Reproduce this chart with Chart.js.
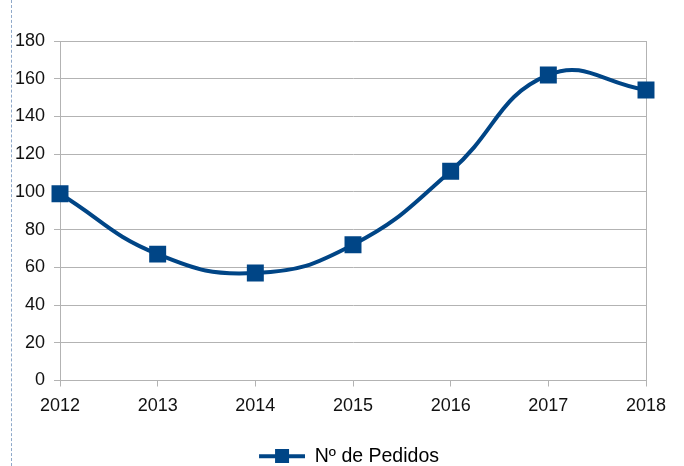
<!DOCTYPE html>
<html>
<head>
<meta charset="utf-8">
<script src="https://cdn.jsdelivr.net/npm/chart.js@4"></script>
<style>
    html, body { margin: 0; padding: 0; background: #fff; }
    #wrap { position: relative; width: 684px; height: 466px; }
    #frame { position: absolute; left: 11px; top: 0; height: 466px; border-left: 1px dashed #8fa9c9; }
</style>
</head>
<body>
<div id="wrap">
    <div id="frame"></div>
    <canvas id="chart" width="684" height="466"></canvas>
</div>
<script>
// Data
const years = ['2012', '2013', '2014', '2015', '2016', '2017', '2018'];
const pedidos = [99, 67, 57, 72, 111, 162, 154];
const seriesLabel = 'Nº de Pedidos';

const lineColor = '#004586';
const gridColor = '#b3b3b3';
const textColor = '#111';

// Legend symbol: line with square, with blank room on the left to nudge the item right
const symbolShift = 52;
function legendSymbol() {
    const c = document.createElement('canvas');
    c.width = 46 + symbolShift;
    c.height = 14;
    const g = c.getContext('2d');
    g.fillStyle = lineColor;
    g.fillRect(symbolShift, 5, 46, 4);
    g.fillRect(symbolShift + 16, 0, 14, 14);
    return c;
}

function initChart() {
    const ctx = document.getElementById('chart').getContext('2d');
    Chart.defaults.font.family = "'Liberation Sans', Arial, sans-serif";
    Chart.defaults.font.size = 18;
    Chart.defaults.color = textColor;

    new Chart(ctx, {
        type: 'line',
        data: {
            labels: years,
            datasets: [{
                label: seriesLabel,
                data: pedidos,
                borderColor: lineColor,
                backgroundColor: lineColor,
                borderWidth: 4,
                tension: 0.45,
                pointStyle: 'rect',
                pointRadius: 12,
                pointHoverRadius: 12,
                pointBorderWidth: 0
            }]
        },
        options: {
            responsive: false,
            animation: false,
            layout: { padding: { top: 41, right: 38, bottom: -10, left: 0 } },
            scales: {
                x: {
                    offset: false,
                    grid: { display: true, drawOnChartArea: false, drawTicks: true, tickLength: 6, color: gridColor },
                    border: { color: gridColor, width: 1 },
                    ticks: { padding: 9, maxRotation: 0 },
                    afterFit: s => { s.height = 66; }
                },
                y: {
                    min: 0,
                    max: 180,
                    ticks: { stepSize: 20, padding: 9 },
                    grid: { color: gridColor, tickLength: 6 },
                    border: { color: gridColor, width: 1 },
                    afterFit: s => { s.width = 60; }
                },
                right: {
                    position: 'right',
                    min: 0,
                    max: 180,
                    ticks: { display: false },
                    grid: { display: false },
                    border: { display: true, color: gridColor, width: 1 },
                    afterFit: s => { s.width = 0; }
                }
            },
            plugins: {
                legend: {
                    position: 'bottom',
                    labels: {
                        font: { size: 19.5 },
                        usePointStyle: true,
                        pointStyleWidth: 46 + symbolShift,
                        padding: 0,
                        generateLabels: chart => chart.data.datasets.map((ds, i) => ({
                            text: ds.label,
                            pointStyle: legendSymbol(),
                            fillStyle: lineColor,
                            strokeStyle: lineColor,
                            lineWidth: 0,
                            datasetIndex: i
                        }))
                    }
                },
                tooltip: { enabled: false }
            }
        }
    });
}

window.onload = initChart;
</script>
</body>
</html>
